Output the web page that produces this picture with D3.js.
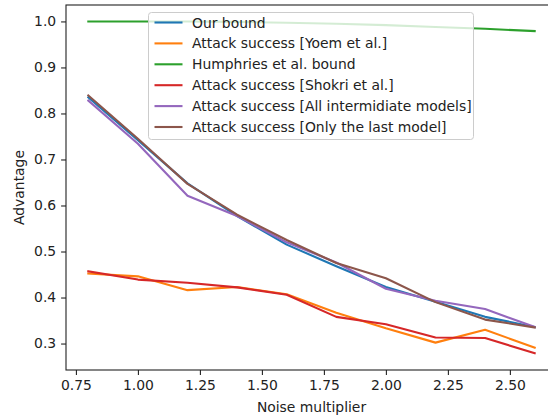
<!DOCTYPE html>
<html>
<head>
<meta charset="utf-8">
<script src="https://cdn.jsdelivr.net/npm/d3@7"></script>
<style>
  body { margin: 0; background: #fff; overflow: hidden; }
  svg text { font-family: "DejaVu Sans", sans-serif; fill: #222; }
</style>
</head>
<body>
<div id="chart"></div>
<script>
// noise multipliers on the x axis
const noise = [0.8, 1.0, 1.2, 1.4, 1.6, 1.8, 2.0, 2.2, 2.4, 2.6]

const ourBound     = [0.835, 0.742, 0.648, 0.577, 0.515, 0.468, 0.423, 0.391, 0.358, 0.336]
const yoem         = [0.452, 0.446, 0.416, 0.423, 0.407, 0.367, 0.333, 0.302, 0.330, 0.291]
const humphries    = [1.0, 1.0, 1.0, 0.999, 0.997, 0.995, 0.992, 0.988, 0.984, 0.979]
const shokri       = [0.457, 0.439, 0.432, 0.422, 0.406, 0.358, 0.342, 0.313, 0.312, 0.279]
const intermediate = [0.828, 0.734, 0.621, 0.577, 0.520, 0.476, 0.419, 0.393, 0.375, 0.336]
const lastModel    = [0.839, 0.745, 0.647, 0.580, 0.525, 0.475, 0.442, 0.390, 0.352, 0.335]

const seriesNames = [
  "Our bound",
  "Attack success [Yoem et al.]",
  "Humphries et al. bound",
  "Attack success [Shokri et al.]",
  "Attack success [All intermidiate models]",
  "Attack success [Only the last model]"
]
const seriesValues = [ourBound, yoem, humphries, shokri, intermediate, lastModel]
const colors = ["#1f77b4", "#ff7f0e", "#2ca02c", "#d62728", "#9467bd", "#8c564b"]

const xTicks = [0.75, 1.0, 1.25, 1.5, 1.75, 2.0, 2.25, 2.5]
const yTicks = [0.3, 0.4, 0.5, 0.6, 0.7, 0.8, 0.9, 1.0]

const width = 548
const height = 417
const margin = { top: 5, right: -9, bottom: 47, left: 66 }
const boundedWidth = width - margin.left - margin.right
const boundedHeight = height - margin.top - margin.bottom

const svg = d3.select("#chart")
  .append("svg")
    .attr("width", width)
    .attr("height", height)

const g = svg.append("g")
  .attr("transform", `translate(${margin.left},${margin.top})`)

const xScale = d3.scaleLinear()
  .domain([0.71, 2.69])
  .range([0, boundedWidth])

const yScale = d3.scaleLinear()
  .domain([0.2425, 1.0357])
  .range([boundedHeight, 0])

// lines
const line = d3.line()
  .x((d, i) => xScale(noise[i]))
  .y(d => yScale(d))

g.selectAll(".series")
  .data(seriesValues)
  .join("path")
    .attr("class", "series")
    .attr("d", d => line(d))
    .attr("fill", "none")
    .attr("stroke", (d, i) => colors[i])
    .attr("stroke-width", 2.1)
    .attr("stroke-linejoin", "round")
    .attr("stroke-linecap", "square")

// axes
const xAxis = g.append("g")
  .attr("transform", `translate(0,${boundedHeight})`)
  .call(d3.axisBottom(xScale).tickValues(xTicks).tickFormat(d3.format(".2f")).tickSizeOuter(0).tickSize(4.9).tickPadding(4.9))
const yAxis = g.append("g")
  .call(d3.axisLeft(yScale).tickValues(yTicks).tickFormat(d3.format(".1f")).tickSizeOuter(0).tickSize(4.9).tickPadding(4.9))

;[xAxis, yAxis].forEach(ax => {
  ax.selectAll("text").style("font-size", "13.9px").attr("fill", "#222")
  ax.selectAll("line").attr("stroke", "#222").attr("stroke-width", 1.1)
  ax.select(".domain").remove()
})

// frame
g.append("rect")
  .attr("x", 0)
  .attr("y", 0)
  .attr("width", boundedWidth)
  .attr("height", boundedHeight)
  .attr("fill", "none")
  .attr("stroke", "#222")
  .attr("stroke-width", 1.1)

g.append("text")
  .attr("x", boundedWidth / 2)
  .attr("y", boundedHeight + 42)
  .attr("text-anchor", "middle")
  .style("font-size", "13.9px")
  .text("Noise multiplier")

g.append("text")
  .attr("transform", `translate(${-42},${boundedHeight / 2}) rotate(-90)`)
  .attr("text-anchor", "middle")
  .style("font-size", "13.9px")
  .text("Advantage")

// legend, upper center
const legend = svg.append("g")
  .attr("transform", "translate(148.5,12.5)")

legend.append("rect")
  .attr("width", 325)
  .attr("height", 127)
  .attr("rx", 3)
  .attr("fill", "#fff")
  .attr("fill-opacity", 0.8)
  .attr("stroke", "#ccc")
  .attr("stroke-width", 1)

const items = legend.selectAll(".item")
  .data(seriesNames)
  .join("g")
    .attr("class", "item")
    .attr("transform", (d, i) => `translate(0,${10 + i * 20.9})`)

items.append("line")
  .attr("x1", 6)
  .attr("x2", 34)
  .attr("stroke", (d, i) => colors[i])
  .attr("stroke-width", 2.1)

items.append("text")
  .attr("x", 43.5)
  .attr("dy", "0.36em")
  .style("font-size", "13.9px")
  .text(d => d)
</script>
</body>
</html>
